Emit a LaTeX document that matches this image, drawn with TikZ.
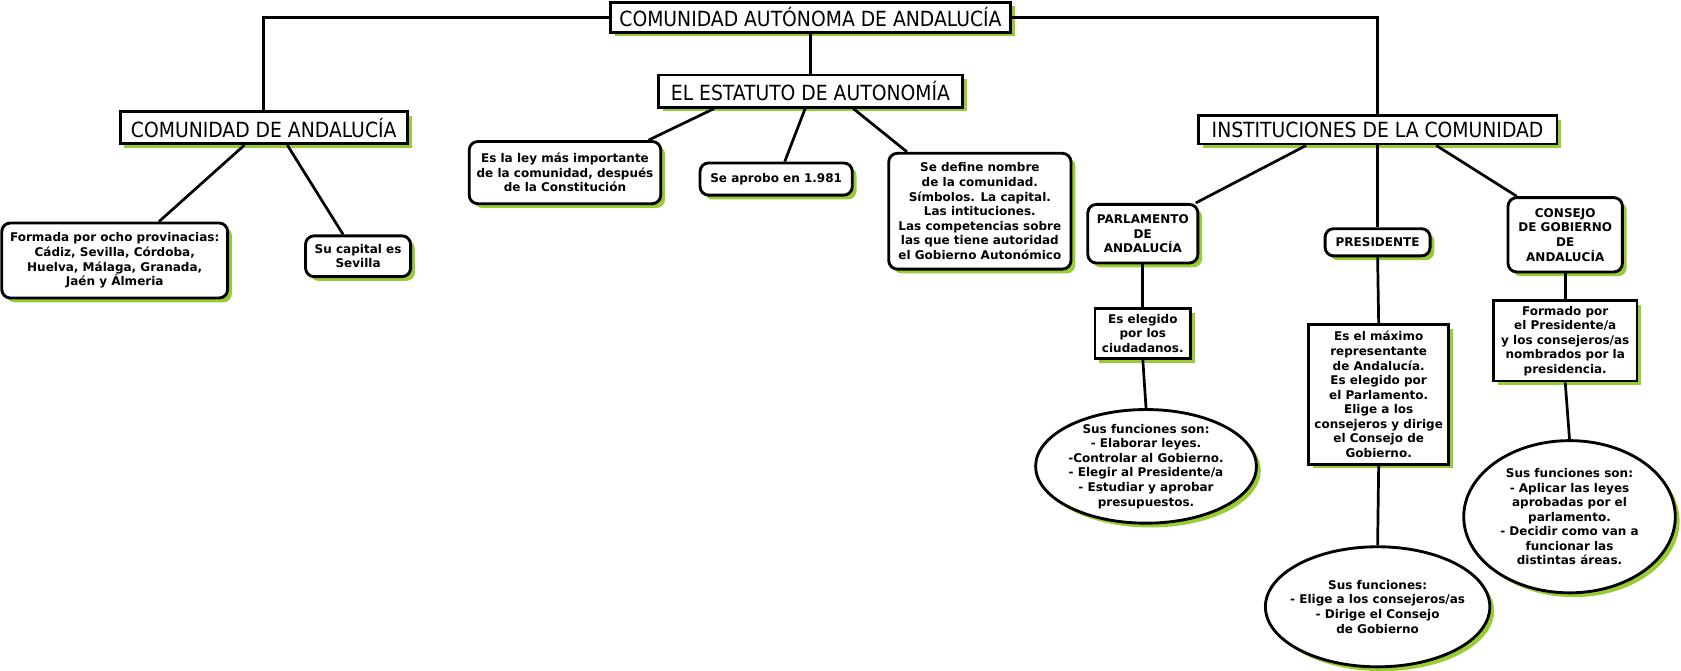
\documentclass[tikz,border=0pt]{standalone}
\usepackage{fontspec}
\setmainfont{DejaVu Sans}
\newfontfamily\headfont{DejaVu Sans Condensed}
\usepackage{tikz}
\usetikzlibrary{shapes.geometric,shadows}
\definecolor{shadowgreen}{RGB}{153,204,51}

\tikzset{
  greenshadow/.style={drop shadow={shadow xshift=3pt,shadow yshift=-3pt,fill=shadowgreen,opacity=1}},
  titlebox/.style={draw,line width=2pt,fill=white,greenshadow,inner sep=2pt,font=\headfont\fontsize{14.6}{16}\selectfont},
  roundbox/.style={draw,line width=2pt,fill=white,greenshadow,rounded corners=6pt,align=center,inner sep=3pt,font=\bfseries\fontsize{8.4}{10.2}\selectfont},
  squarebox/.style={roundbox,rounded corners=0pt},
  ovalbox/.style={ellipse,draw,line width=2pt,fill=white,greenshadow,align=center,inner sep=-9pt,font=\bfseries\fontsize{8.4}{10.2}\selectfont},
  link/.style={line width=1.9pt}
}

\begin{document}
\begin{tikzpicture}[x=0.75pt,y=0.75pt,yscale=-1,xscale=1]
\useasboundingbox (0,0) rectangle (1568,625);

% Title boxes
\node[titlebox,minimum width=280pt,minimum height=21pt] (root) at (756,16) {COMUNIDAD AUTÓNOMA DE ANDALUCÍA};
\node[titlebox,minimum width=201pt,minimum height=22.5pt] (comu) at (246,119) {COMUNIDAD DE ANDALUCÍA};
\node[titlebox,minimum width=213pt,minimum height=22.5pt] (estatuto) at (756,85) {EL ESTATUTO DE AUTONOMÍA};
\node[titlebox,minimum width=251pt,minimum height=20pt] (inst) at (1285,121) {INSTITUCIONES DE LA COMUNIDAD};

% Text Node
\node[roundbox,minimum width=158pt,minimum height=52.5pt] (prov) at (107,243) {Formada por ocho provinacias:\\ Cádiz, Sevilla, Córdoba,\\ Huelva, Málaga, Granada,\\ Jaén y Álmeria};
\node[roundbox,minimum width=73.5pt,minimum height=28.5pt] (capital) at (334,239) {Su capital es\\ Sevilla};
\node[roundbox,minimum width=134pt,minimum height=43.5pt] (ley) at (527,161) {Es la ley más importante\\ de la comunidad, después\\ de la Constitución};
\node[roundbox,minimum width=106.5pt,minimum height=22.5pt] (aprobo) at (724,167) {Se aprobo en 1.981};
\node[roundbox,minimum width=127.5pt,minimum height=81pt] (define) at (914,197) {Se define nombre\\ de la comunidad.\\ Símbolos. La capital.\\ Las intituciones.\\ Las competencias sobre\\ las que tiene autoridad\\ el Gobierno Autonómico};

% Text Node
\node[roundbox,minimum width=77pt,minimum height=41pt] (parl) at (1066,218) {PARLAMENTO\\ DE\\ ANDALUCÍA};
\node[roundbox,minimum width=73.5pt,minimum height=19pt] (pres) at (1285,226) {PRESIDENTE};
\node[roundbox,minimum width=80pt,minimum height=52pt] (cons) at (1460,219) {CONSEJO\\ DE GOBIERNO\\ DE\\ ANDALUCÍA};

% Text Node
\node[squarebox,minimum width=67pt,minimum height=35pt] (elegido) at (1066,311) {Es elegido\\ por los\\ ciudadanos.};
\node[squarebox,minimum width=98pt,minimum height=97.5pt] (maximo) at (1286,368) {Es el máximo\\ representante\\ de Andalucía.\\ Es elegido por\\ el Parlamento.\\ Elige a los\\ consejeros y dirige\\ el Consejo de\\ Gobierno.};
\node[squarebox,minimum width=100.5pt,minimum height=56pt] (formado) at (1460,318) {Formado por\\ el Presidente/a\\ y los consejeros/as\\ nombrados por la\\ presidencia.};

%Shape: Ellipse
\node[ovalbox,minimum width=154.5pt,minimum height=79.5pt] (funparl) at (1069,435) {Sus funciones son:\\ - Elaborar leyes.\\ -Controlar al Gobierno.\\ - Elegir al Presidente/a\\ - Estudiar y aprobar\\ presupuestos.};
\node[ovalbox,minimum width=157pt,minimum height=84pt] (funpres) at (1285,566) {Sus funciones:\\ - Elige a los consejeros/as\\ - Dirige el Consejo\\ de Gobierno};
\node[ovalbox,minimum width=148pt,minimum height=106.5pt] (funcons) at (1464,482) {Sus funciones son:\\ - Aplicar las leyes\\ aprobadas por el\\ parlamento.\\ - Decidir como van a\\ funcionar las\\ distintas áreas.};

%Straight Lines
\draw[link] (root.west) -| (comu.north);
\draw[link] (root.east) -| (inst.north);
\draw[link] (root.south) -- (estatuto.north);
\draw[link] ([xshift=-13.5pt]comu.south) -- ([xshift=31pt]prov.north);
\draw[link] ([xshift=16.5pt]comu.south) -- ([xshift=-10.5pt]capital.north);
\draw[link] ([xshift=-67.5pt]estatuto.south) -- ([xshift=58.5pt]ley.north);
\draw[link] ([xshift=-3.75pt]estatuto.south) -- ([xshift=6pt]aprobo.north);
\draw[link] ([xshift=30pt]estatuto.south) -- ([xshift=-51pt]define.north);
\draw[link] ([xshift=-50pt]inst.south) -- ([xshift=37pt]parl.north);
\draw[link] (inst.south) -- (pres.north);
\draw[link] ([xshift=41pt]inst.south) -- ([xshift=-34pt]cons.north);
\draw[link] (parl.south) -- (elegido.north);
\draw[link] (elegido.south) -- (funparl.north);
\draw[link] (pres.south) -- (maximo.north);
\draw[link] (maximo.south) -- (funpres.north);
\draw[link] (cons.south) -- (formado.north);
\draw[link] (formado.south) -- (funcons.north);

\end{tikzpicture}
\end{document}
